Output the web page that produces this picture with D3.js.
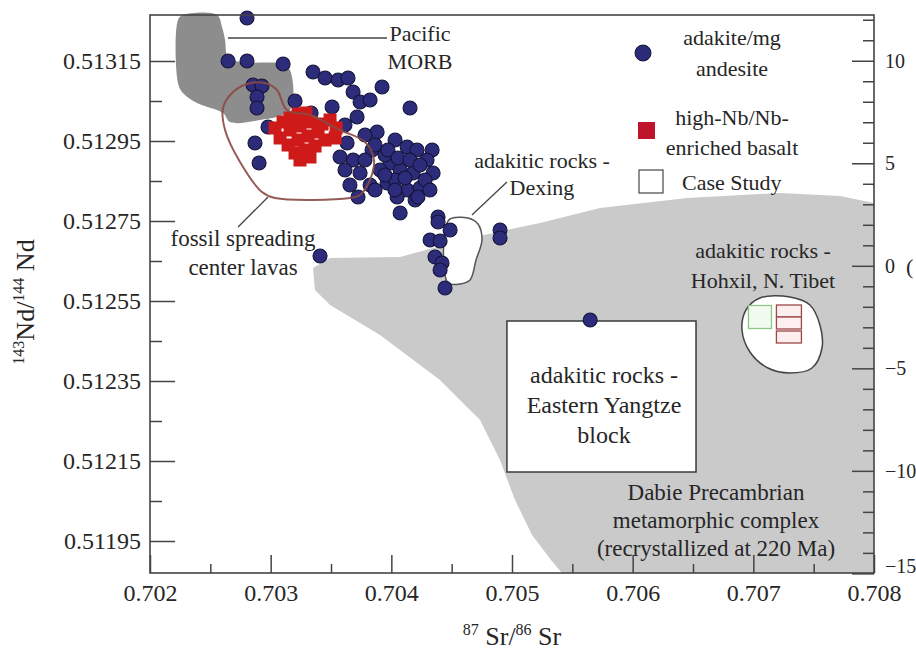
<!DOCTYPE html>
<html>
<head>
<meta charset="utf-8">
<script src="https://cdn.jsdelivr.net/npm/d3@7"></script>
<style>
  body { margin: 0; background: #fff; }
  svg { display: block; font-family: "Liberation Serif", "Times New Roman", serif; }
</style>
</head>
<body>
<svg id="chart" width="916" height="650"></svg>
<script>
// ---- data (87Sr/86Sr, 143Nd/144Nd) ----
const xTicks = [0.702, 0.703, 0.704, 0.705, 0.706, 0.707, 0.708];
const ndTicks = [0.51315, 0.51295, 0.51275, 0.51255, 0.51235, 0.51215, 0.51195];
const epsTicks = [10, 5, 0, -5, -10, -15];

const adakite = [
  [0.702804, 0.5132575], [0.702647, 0.51315], [0.702804, 0.51315],
  [0.703103, 0.5131425], [0.703351, 0.5131225], [0.703451, 0.5131075],
  [0.703559, 0.5131025], [0.703641, 0.5131075], [0.703923, 0.513085],
  [0.702854, 0.51309], [0.702928, 0.5130875], [0.702887, 0.51306],
  [0.702887, 0.5130325], [0.703202, 0.51305], [0.703335, 0.51302],
  [0.702978, 0.512985], [0.70287, 0.512945], [0.702904, 0.512895],
  [0.703509, 0.513035], [0.703683, 0.5130725], [0.703741, 0.5130475],
  [0.703824, 0.5130525], [0.703716, 0.51301], [0.703882, 0.5129725],
  [0.704031, 0.5129525], [0.704131, 0.512935], [0.704213, 0.5129275],
  [0.704338, 0.5129275], [0.704296, 0.5129025], [0.70399, 0.512895],
  [0.704073, 0.5128775], [0.70418, 0.51287], [0.704346, 0.51287],
  [0.703907, 0.5128775], [0.703633, 0.512945], [0.703683, 0.5129025],
  [0.703575, 0.51291], [0.703741, 0.51287], [0.703965, 0.512845],
  [0.704131, 0.5128275], [0.704238, 0.5128325], [0.704048, 0.51281],
  [0.703724, 0.51281], [0.704073, 0.51277], [0.704387, 0.51276],
  [0.704155, 0.5130325], [0.70384, 0.5129275], [0.703948, 0.512915],
  [0.704031, 0.5128525], [0.703824, 0.51284], [0.704197, 0.5128025],
  [0.70428, 0.5128525], [0.703616, 0.51299], [0.703782, 0.512965],
  [0.703865, 0.51294], [0.703972, 0.5129275], [0.704055, 0.5129075],
  [0.704155, 0.5129025], [0.704238, 0.51289], [0.703947, 0.512865],
  [0.70403, 0.5128275], [0.704113, 0.5128575], [0.704221, 0.51281],
  [0.703865, 0.5128275], [0.703782, 0.5129025], [0.70432, 0.5128275],
  [0.703616, 0.5128775], [0.703657, 0.51284],
  [0.704387, 0.5127475], [0.704487, 0.5127275], [0.704321, 0.5127025],
  [0.704404, 0.5127], [0.704362, 0.51266], [0.70442, 0.512645],
  [0.704404, 0.5126275], [0.704445, 0.5125825], [0.704901, 0.5127275],
  [0.704901, 0.5127075], [0.703409, 0.5126625], [0.705648, 0.5125025],
];

const highNb = [
  [0.703036, 0.5129825], [0.703103, 0.5129975], [0.703161, 0.5130075],
  [0.703227, 0.5130175], [0.703293, 0.51302], [0.703078, 0.5129575],
  [0.703161, 0.5129775], [0.703243, 0.5129875], [0.703326, 0.5129975],
  [0.703144, 0.51294], [0.703227, 0.5129525], [0.70331, 0.5129625],
  [0.703393, 0.5129725], [0.703202, 0.51292], [0.703285, 0.5129275],
  [0.703368, 0.5129375], [0.703451, 0.5129525], [0.703243, 0.5129025],
  [0.703326, 0.51291], [0.703492, 0.5130025], [0.703542, 0.5129825],
  [0.703534, 0.5129575], [0.703426, 0.5129925],
];

// case study squares (Hohxil)
const caseStudy = [
  { sr: 0.707055, nd: 0.51251, group: "green" },
  { sr: 0.707295, nd: 0.512525, group: "red" },
  { sr: 0.707295, nd: 0.512495, group: "red" },
  { sr: 0.707295, nd: 0.51246, group: "red" },
];

// field outlines
const morbField = [
  [0.702232, 0.5132525], [0.702273, 0.513265], [0.702555, 0.513265],
  [0.702597, 0.513235], [0.702622, 0.5132025], [0.702646, 0.51316],
  [0.702746, 0.5131475], [0.703102, 0.5131425], [0.70316, 0.5131275],
  [0.70316, 0.5130275], [0.702912, 0.5130025], [0.702663, 0.5129975],
  [0.702605, 0.51302], [0.702389, 0.513045], [0.702273, 0.51307],
  [0.702232, 0.513095],
];

const fossilField = [
  [0.702804, 0.5130925], [0.702953, 0.513095], [0.703052, 0.5130775],
  [0.703135, 0.5130275], [0.703326, 0.513015], [0.703575, 0.5129775],
  [0.703782, 0.5129475], [0.703856, 0.5129025], [0.703823, 0.5128525],
  [0.70374, 0.512815], [0.703657, 0.5128075], [0.703036, 0.5128075],
  [0.702928, 0.5128225], [0.702746, 0.5128975], [0.702622, 0.5129775],
  [0.702605, 0.5130325], [0.70268, 0.51307],
];

const dexingField = [
  [0.704486, 0.512755], [0.704635, 0.5127575], [0.704718, 0.5127425],
  [0.704751, 0.5127025], [0.704702, 0.5126525], [0.704652, 0.5126025],
  [0.704569, 0.5125925], [0.70447, 0.512595], [0.704436, 0.51264],
  [0.704436, 0.5127025], [0.704453, 0.51274],
];

const hohxilField = [
  [0.707055, 0.5125575], [0.707304, 0.51256], [0.707469, 0.51254],
  [0.707552, 0.51249], [0.707569, 0.5124325], [0.707486, 0.5123825],
  [0.707304, 0.51237], [0.707121, 0.5123825], [0.706972, 0.5124225],
  [0.706906, 0.5124775], [0.706939, 0.5125275],
];

const dabieField = [
  [0.703351, 0.5126325], [0.703492, 0.5126575], [0.704072, 0.51266],
  [0.704652, 0.5127075], [0.705232, 0.512745], [0.705729, 0.5127825],
  [0.70645, 0.5128075], [0.707221, 0.51282], [0.707718, 0.5128125],
  [0.708, 0.512795], [0.708, 0.51187], [0.705414, 0.51187],
  [0.705323, 0.5119025], [0.705166, 0.511965], [0.705025, 0.5120525],
  [0.7049, 0.5121525], [0.704735, 0.5122525], [0.704403, 0.5123525],
  [0.703906, 0.512465], [0.703492, 0.51254], [0.703367, 0.5125775],
];

const yangtzeBox = { sr0: 0.704958, sr1: 0.706525, nd0: 0.5121225, nd1: 0.5125 };

const leaders = [
  [[0.702646, 0.5132075], [0.703964, 0.5132075]],
  [[0.702978, 0.51281], [0.70273, 0.512735]],
  [[0.704668, 0.512765], [0.704958, 0.5128475]],
];

// ---- layout ----
const marginLeft = 150;
const plotRight = 874;
const plotTop = 15;
const plotBottom = 573;
const CHUR = 0.512638;
const ndToEps = (nd) => (nd / CHUR - 1) * 1e4;
const textColor = "#262626";

const x = d3.scaleLinear().domain([0.702, 0.708]).range([marginLeft, plotRight]);
const y = d3.scaleLinear().domain([0.51187, 0.513265]).range([plotBottom, plotTop]);
const yEps = d3.scaleLinear().domain(y.domain().map(ndToEps)).range([plotBottom, plotTop]);

const svg = d3.select("#chart");
const line = d3.line().x((d) => x(d[0])).y((d) => y(d[1]));
const smooth = d3.line().x((d) => x(d[0])).y((d) => y(d[1])).curve(d3.curveCatmullRomClosed.alpha(0.5));
const poly = d3.line().x((d) => x(d[0])).y((d) => y(d[1])).curve(d3.curveLinearClosed);

/**
 * Fields
 */
svg.append("path").attr("d", poly(dabieField)).attr("fill", "#cacaca");
svg.append("path").attr("d", smooth(morbField)).attr("fill", "#8d8d8d");

svg.append("rect")
  .attr("x", x(yangtzeBox.sr0))
  .attr("y", y(yangtzeBox.nd1))
  .attr("width", x(yangtzeBox.sr1) - x(yangtzeBox.sr0))
  .attr("height", y(yangtzeBox.nd0) - y(yangtzeBox.nd1))
  .attr("fill", "#fff")
  .attr("stroke", "#3a3a3a")
  .attr("stroke-width", 1.5);

svg.append("path").attr("d", smooth(dexingField))
  .attr("fill", "#fff").attr("stroke", "#555").attr("stroke-width", 1.5);
svg.append("path").attr("d", smooth(hohxilField))
  .attr("fill", "#fff").attr("stroke", "#444").attr("stroke-width", 1.5);

svg.append("g")
  .selectAll("path")
  .data(leaders)
  .join("path")
  .attr("d", (d) => line(d))
  .attr("stroke", "#444")
  .attr("stroke-width", 1.3)
  .attr("fill", "none");

/**
 * Points
 */
svg.append("g")
  .selectAll("circle")
  .data(adakite)
  .join("circle")
  .attr("cx", (d) => x(d[0]))
  .attr("cy", (d) => y(d[1]))
  .attr("r", 7)
  .attr("fill", "#2c2c7a")
  .attr("stroke", "#141438")
  .attr("stroke-width", 1.1);

const sq = 13;
svg.append("g")
  .selectAll("rect")
  .data(highNb)
  .join("rect")
  .attr("x", (d) => x(d[0]) - sq / 2)
  .attr("y", (d) => y(d[1]) - sq / 2)
  .attr("width", sq)
  .attr("height", sq)
  .attr("fill", "#cf1a1a");

svg.append("path").attr("d", smooth(fossilField))
  .attr("fill", "none").attr("stroke", "#8a4a45").attr("stroke-width", 2).attr("stroke-opacity", 0.9);

svg.append("g")
  .selectAll("rect")
  .data(caseStudy)
  .join("rect")
  .attr("x", (d) => x(d.sr) - (d.group === "green" ? 11.5 : 12.5))
  .attr("y", (d) => y(d.nd) - (d.group === "green" ? 11.5 : 6))
  .attr("width", (d) => (d.group === "green" ? 23 : 25))
  .attr("height", (d) => (d.group === "green" ? 23 : 12))
  .attr("fill", (d) => (d.group === "green" ? "#f2fbef" : "#fdeef0"))
  .attr("stroke", (d) => (d.group === "green" ? "#8fc78a" : "#9a4848"))
  .attr("stroke-width", 1.3);

/**
 * Axes
 */
function styleAxis(g, size) {
  g.attr("font-family", null).attr("font-size", size);
  g.select(".domain").remove();
  g.selectAll(".tick line").attr("stroke", "#444").attr("stroke-width", 1.5);
  g.selectAll(".tick text").attr("fill", textColor);
}

svg.append("g")
  .attr("transform", `translate(0,${plotBottom})`)
  .call(d3.axisBottom(x).tickValues(xTicks).tickSize(-18).tickPadding(11).tickFormat(d3.format(".3f")))
  .call((g) => styleAxis(g, 24));
svg.append("g")
  .attr("transform", `translate(0,${plotBottom})`)
  .call(d3.axisBottom(x).tickValues(d3.range(0.7025, 0.708, 0.001)).tickSize(-9).tickFormat(""))
  .call((g) => styleAxis(g, 10));

svg.append("g")
  .attr("transform", `translate(${marginLeft},0)`)
  .call(d3.axisLeft(y).tickValues(ndTicks).tickSize(-25).tickPadding(9).tickFormat(d3.format(".5f")))
  .call((g) => styleAxis(g, 24));
svg.append("g")
  .attr("transform", `translate(${marginLeft},0)`)
  .call(d3.axisLeft(y).tickValues(d3.range(0.51205, 0.51314, 0.0002)).tickSize(-12).tickFormat(""))
  .call((g) => styleAxis(g, 10));

svg.append("g")
  .attr("transform", `translate(${plotRight},0)`)
  .call(d3.axisRight(yEps).tickValues(epsTicks).tickSize(-22).tickPadding(11).tickFormat(d3.format("d")))
  .call((g) => styleAxis(g, 20))
  .call((g) => g.selectAll(".tick text").filter((d) => d === -15).attr("dy", "-0.05em"));
svg.append("g")
  .attr("transform", `translate(${plotRight},0)`)
  .call(d3.axisRight(yEps).tickValues(d3.range(-14, 13).filter((d) => d % 5 !== 0)).tickSize(-11).tickFormat(""))
  .call((g) => styleAxis(g, 10));

svg.append("rect")
  .attr("x", marginLeft).attr("y", plotTop)
  .attr("width", plotRight - marginLeft).attr("height", plotBottom - plotTop)
  .attr("fill", "none").attr("stroke", "#444").attr("stroke-width", 1.6);

svg.append("text")
  .attr("x", 906).attr("y", yEps(0)).attr("dy", "0.35em")
  .attr("font-size", 22).attr("fill", textColor).text("(");

// axis titles
const xTitle = svg.append("text")
  .attr("x", 512).attr("y", 645)
  .attr("text-anchor", "middle").attr("font-size", 26).attr("fill", textColor);
xTitle.append("tspan").attr("font-size", 16).attr("dy", -10).text("87");
xTitle.append("tspan").attr("dy", 10).text(" Sr/");
xTitle.append("tspan").attr("font-size", 16).attr("dy", -10).text("86");
xTitle.append("tspan").attr("dy", 10).text(" Sr");

const yTitle = svg.append("text")
  .attr("transform", "translate(34,302) rotate(-90)")
  .attr("text-anchor", "middle").attr("font-size", 26).attr("fill", textColor);
yTitle.append("tspan").attr("font-size", 16).attr("dy", -10).text("143");
yTitle.append("tspan").attr("dy", 10).text("Nd/");
yTitle.append("tspan").attr("font-size", 16).attr("dy", -10).text("144");
yTitle.append("tspan").attr("dy", 10).text(" Nd");

/**
 * Labels
 */
const labels = [
  { lines: ["Pacific", "MORB"], cx: 420, cy: 33, gap: 28, size: 22 },
  { lines: ["fossil spreading", "center lavas"], cx: 243, cy: 238, gap: 29, size: 23 },
  { lines: ["adakitic rocks -", "Dexing"], cx: 542, cy: 160, gap: 27, size: 22 },
  { lines: ["adakitic rocks -", "Hohxil, N. Tibet"], cx: 763, cy: 250, gap: 30, size: 22 },
  { lines: ["adakitic rocks -", "Eastern Yangtze", "block"], cx: 604, cy: 375, gap: 30, size: 24 },
  { lines: ["Dabie Precambrian", "metamorphic complex", "(recrystallized at 220 Ma)"], cx: 716, cy: 492, gap: 28, size: 23 },
];

svg.append("g")
  .attr("fill", textColor)
  .attr("text-anchor", "middle")
  .selectAll("text")
  .data(labels.flatMap((l) => l.lines.map((t, i) => ({ t, cx: l.cx, cy: l.cy + i * l.gap, size: l.size }))))
  .join("text")
  .attr("x", (d) => d.cx)
  .attr("y", (d) => d.cy)
  .attr("dy", "0.35em")
  .attr("font-size", (d) => d.size)
  .text((d) => d.t);

/**
 * Legend
 */
const legend = svg.append("g").attr("font-size", 22).attr("fill", textColor);
legend.append("circle").attr("cx", 643).attr("cy", 53).attr("r", 8)
  .attr("fill", "#2c2c7a").attr("stroke", "#141438");
legend.append("rect").attr("x", 638).attr("y", 122).attr("width", 17).attr("height", 17)
  .attr("fill", "#c0142a");
legend.append("rect").attr("x", 639).attr("y", 170).attr("width", 24).attr("height", 23)
  .attr("fill", "#fff").attr("stroke", "#555").attr("stroke-width", 1.3);

const legendText = [
  { t: "adakite/mg", cx: 732, cy: 37 },
  { t: "andesite", cx: 732, cy: 68 },
  { t: "high-Nb/Nb-", cx: 732, cy: 117 },
  { t: "enriched basalt", cx: 732, cy: 147 },
];
legend.selectAll(".lt")
  .data(legendText)
  .join("text")
  .attr("class", "lt")
  .attr("x", (d) => d.cx)
  .attr("y", (d) => d.cy)
  .attr("dy", "0.35em")
  .attr("text-anchor", "middle")
  .text((d) => d.t);
legend.append("text").attr("x", 682).attr("y", 182).attr("dy", "0.35em").text("Case Study");
</script>
</body>
</html>
